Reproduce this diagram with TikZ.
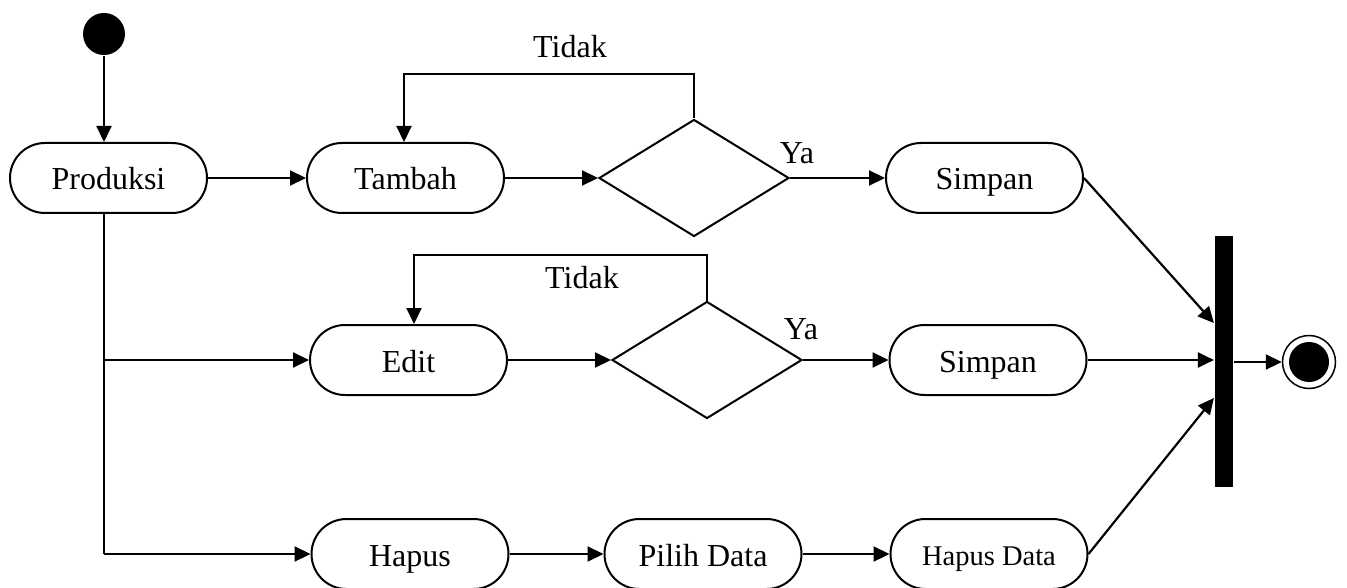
\documentclass[tikz,border=0pt]{standalone}
\usepackage{fontspec}
\setmainfont{Liberation Serif}
\usetikzlibrary{shapes.geometric,arrows.meta}
\begin{document}
\begin{tikzpicture}[x=1pt,y=-1pt, line width=2.2pt,
 act/.style={draw, line width=2pt, rounded corners=35pt, minimum width=197pt, minimum height=70pt, inner sep=0pt, text height=24pt, text depth=0pt, font=\fontsize{32}{36}\selectfont},
 dec/.style={draw, line width=2pt, diamond, minimum width=190pt, minimum height=117pt, inner sep=0pt, shape aspect=1.62},
 arr/.style={-{Triangle[length=16pt,width=15pt]}},
 lbl/.style={font=\fontsize{32}{36}\selectfont, inner sep=0pt}]
\useasboundingbox (0,0) rectangle (1347,588);
% nodes
\node[circle, fill, inner sep=0pt, minimum size=42pt] (start) at (104,34) {};
\node[act] (prod) at (108.5,178) {Produksi};
\node[act] (tambah) at (405.5,178) {Tambah};
\node[dec] (d1) at (694,178) {};
\node[act] (s1) at (984.5,178) {Simpan};
\node[act] (edit) at (408.5,360) {Edit};
\node[dec] (d2) at (707,360) {};
\node[act] (s2) at (988,360) {Simpan};
\node[act] (hapus) at (410,554) {Hapus};
\node[act] (pilih) at (703,554) {Pilih Data};
\node[act, text height=22pt, font=\fontsize{28.5}{32}\selectfont] (hd) at (989,554) {Hapus Data};
\node[fill, minimum width=18pt, minimum height=251pt, inner sep=0pt] (bar) at (1224,361.5) {};
\node[circle, draw, line width=1.5pt, minimum size=53pt, inner sep=0pt] (end) at (1309,362) {};
\node[circle, fill, minimum size=40pt, inner sep=0pt] (endin) at (1309,362) {};
% labels
\node[lbl] (tidak1) at (570,47) {Tidak};
\node[lbl] (ya1) at (797,153) {Ya};
\node[lbl] (tidak2) at (582,278) {Tidak};
\node[lbl] (ya2) at (801,329) {Ya};
% helper coordinates
\coordinate (t1) at (404,74);
\coordinate (t2) at (414,255);
\coordinate (c1) at (104,360);
\coordinate (c2) at (104,554);
\coordinate (j1) at (1215,323);
\coordinate (j3) at (1215,398);
% connectors
\draw[arr] (start) -- (start |- prod.north);
\draw[arr] (prod.east) -- (tambah.west);
\draw[arr] (tambah.east) -- (d1.west);
\draw[arr] (d1.east) -- (s1.west);
\draw[arr] (d1.north) |- (t1) -- (t1 |- tambah.north);
\draw[arr] (edit.east) -- (d2.west);
\draw[arr] (d2.east) -- (s2.west);
\draw[arr] (d2.north) |- (t2) -- (t2 |- edit.north);
\draw (prod.south -| c1) -- (c2);
\draw[arr] (c1) -- (edit.west);
\draw[arr] (c2) -- (hapus.west);
\draw[arr] (hapus.east) -- (pilih.west);
\draw[arr] (pilih.east) -- (hd.west);
\draw[arr] (s1.east) -- (bar.west |- j1);
\draw[arr] (s2.east) -- (bar.west |- s2.east);
\draw[arr] (hd.east) -- (bar.west |- j3);
\draw[arr] (bar.east |- end) -- (end.west);
\end{tikzpicture}
\end{document}
